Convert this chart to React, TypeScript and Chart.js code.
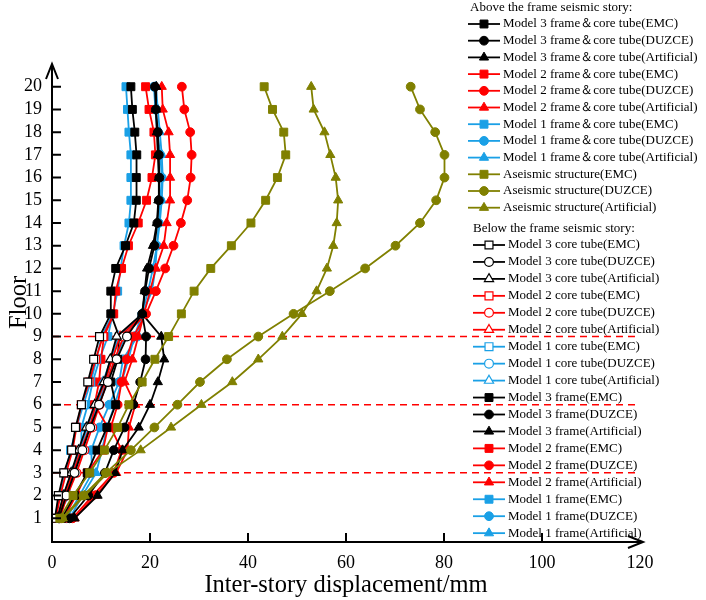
import { useEffect, useRef } from "react";
import { Chart, registerables } from "chart.js";

Chart.register(...registerables);

// floors
const floorsUpper = [10, 11, 12, 13, 14, 15, 16, 17, 18, 19, 20];
const floorsLower = [1, 2, 3, 4, 5, 6, 7, 8, 9];
const floorsAll = [1, 2, 3, 4, 5, 6, 7, 8, 9, 10, 11, 12, 13, 14, 15, 16, 17, 18, 19, 20];
const yTickValues = floorsAll;
const xTickValues = [0, 20, 40, 60, 80, 100, 120];
const storyLines = [9, 6, 3];

// above the frame seismic story (floors 10-20), frame & core tube
const m3EMC = [12.0, 12.0, 13.0, 15.0, 16.7, 17.2, 17.2, 17.3, 16.9, 16.4, 16.1];
const m3DUZCE = [18.4, 19.0, 19.8, 20.9, 21.5, 21.8, 21.9, 21.8, 21.6, 21.2, 21.0];
const m3Art = [18.4, 18.9, 19.4, 20.6, 21.4, 21.7, 21.8, 21.6, 21.4, 21.2, 21.3];
const m2EMC = [12.6, 13.0, 14.2, 15.6, 17.6, 19.3, 20.4, 21.1, 20.8, 19.8, 19.1];
const m2DUZCE = [19.2, 21.2, 23.1, 24.8, 26.3, 27.6, 28.3, 28.5, 28.2, 27.0, 26.5];
const m2Art = [18.8, 20.0, 21.2, 22.8, 23.4, 24.1, 24.1, 24.1, 23.8, 22.6, 22.4];
const m1EMC = [12.4, 13.4, 14.0, 14.7, 15.7, 16.1, 16.1, 16.1, 15.7, 15.4, 15.1];
const m1DUZCE = [18.4, 19.6, 20.6, 21.4, 21.8, 22.1, 22.4, 22.1, 21.5, 21.1, 20.8];
const m1Art = [18.4, 20.4, 21.1, 21.4, 22.0, 22.4, 22.6, 22.4, 22.0, 21.6, 21.2];

// aseismic structure (floors 1-20)
const aEMC = [1.6, 4.3, 7.7, 10.7, 13.4, 15.7, 18.4, 21.0, 23.8, 26.4, 29.0, 32.4, 36.6, 40.6, 43.6, 46.0, 47.7, 47.3, 45.0, 43.3];
const aDUZCE = [2.0, 6.4, 11.0, 16.1, 20.9, 25.6, 30.2, 35.7, 42.1, 49.3, 56.7, 63.9, 70.1, 75.1, 78.4, 80.1, 80.1, 78.2, 75.1, 73.2];
const aArt = [2.2, 6.7, 11.4, 18.1, 24.3, 30.5, 36.8, 42.1, 47.0, 51.0, 54.0, 56.1, 57.4, 58.1, 58.4, 57.9, 56.8, 55.6, 53.4, 52.9];

// below the frame seismic story (floors 1-9), core tube
const c3EMC = [0.6, 1.3, 2.4, 4.0, 4.8, 6.0, 7.3, 8.5, 9.7];
const c3DUZCE = [1.4, 2.9, 4.6, 6.2, 7.8, 9.6, 11.4, 13.2, 15.3];
const c3Art = [1.1, 2.3, 3.9, 5.4, 7.0, 8.7, 10.6, 11.9, 13.2];
const c2EMC = [0.8, 1.7, 2.9, 4.2, 5.0, 6.0, 7.6, 8.9, 10.4];
const c2DUZCE = [1.6, 3.1, 5.0, 6.6, 8.2, 9.7, 11.2, 12.8, 14.6];
const c2Art = [1.3, 2.6, 4.3, 5.9, 7.7, 8.9, 10.8, 12.3, 13.9];
const c1EMC = [0.6, 1.5, 2.7, 3.8, 5.0, 6.4, 7.9, 9.1, 10.1];
const c1DUZCE = [1.5, 2.8, 4.5, 6.1, 7.6, 9.3, 11.0, 12.9, 14.9];
const c1Art = [1.2, 2.4, 4.0, 5.7, 7.2, 8.8, 10.4, 12.0, 13.6];

// below the frame seismic story (floors 1-9), frame
const f3EMC = [2.0, 4.6, 7.2, 9.2, 11.2, 13.0, 12.0, 13.4, 13.7];
const f3DUZCE = [3.6, 7.4, 10.8, 12.6, 14.8, 16.6, 18.0, 19.1, 19.2];
const f3Art = [4.6, 9.3, 12.9, 14.4, 17.7, 20.0, 21.6, 22.9, 22.3];
const f2EMC = [2.4, 4.9, 7.2, 10.4, 11.4, 8.7, 9.6, 10.0, 10.6];
const f2DUZCE = [4.2, 8.3, 12.6, 14.2, 12.0, 13.4, 14.2, 15.2, 16.6];
const f2Art = [4.6, 8.8, 13.1, 15.4, 15.7, 17.0, 14.8, 16.4, 17.6];
const f1EMC = [0.6, 3.6, 3.6, 6.0, 6.0, 7.3, 8.3, 9.7, 11.4];
const f1DUZCE = [3.0, 5.6, 8.2, 8.0, 9.7, 11.7, 13.7, 14.5, 17.4];
const f1Art = [3.6, 6.2, 9.0, 10.2, 11.2, 12.8, 14.2, 15.6, 16.8];

const waves = ["EMC", "DUZCE", "Artificial"];
const headerAbove = "Above the frame seismic story:";
const headerBelow = "Below the frame seismic story:";

const BLACK = "#000000";
const RED = "#ff0000";
const BLUE = "#1aa0e6";
const OLIVE = "#808000";
const FONT = '"Liberation Serif", "Times New Roman", serif';

type Marker = "rect" | "circle" | "triangle";
const markers: Marker[] = ["rect", "circle", "triangle"];
const markerRadius: Record<Marker, number> = { rect: 5.6, circle: 4.4, triangle: 5.3 };

interface Series {
  label: string;
  color: string;
  marker: Marker;
  open: boolean;
  xs: number[];
  ys: number[];
  hideLast?: boolean;
}

const models = [
  { name: "Model 3", color: BLACK, above: [m3EMC, m3DUZCE, m3Art], core: [c3EMC, c3DUZCE, c3Art], frame: [f3EMC, f3DUZCE, f3Art] },
  { name: "Model 2", color: RED, above: [m2EMC, m2DUZCE, m2Art], core: [c2EMC, c2DUZCE, c2Art], frame: [f2EMC, f2DUZCE, f2Art] },
  { name: "Model 1", color: BLUE, above: [m1EMC, m1DUZCE, m1Art], core: [c1EMC, c1DUZCE, c1Art], frame: [f1EMC, f1DUZCE, f1Art] },
];
const aseismic = [aEMC, aDUZCE, aArt];

function buildSeries() {
  const above: Series[] = [];
  const below: Series[] = [];
  models.forEach((m) =>
    waves.forEach((w, i) =>
      above.push({ label: `${m.name} frame\uFF06core tube(${w})`, color: m.color, marker: markers[i], open: false, xs: m.above[i], ys: floorsUpper })
    )
  );
  waves.forEach((w, i) =>
    above.push({ label: `Aseismic structure(${w})`, color: OLIVE, marker: markers[i], open: false, xs: aseismic[i], ys: floorsAll })
  );
  // lower parts join the frame & core tube curve at floor 10
  models.forEach((m) =>
    waves.forEach((w, i) =>
      below.push({ label: `${m.name} core tube(${w})`, color: m.color, marker: markers[i], open: true, xs: [...m.core[i], m.above[i][0]], ys: [...floorsLower, 10], hideLast: true })
    )
  );
  models.forEach((m) =>
    waves.forEach((w, i) =>
      below.push({ label: `${m.name} frame(${w})`, color: m.color, marker: markers[i], open: false, xs: [...m.frame[i], m.above[i][0]], ys: [...floorsLower, 10], hideLast: true })
    )
  );
  return { above, below };
}

function drawMarker(ctx: CanvasRenderingContext2D, marker: Marker, x: number, y: number, color: string, open: boolean) {
  const r = markerRadius[marker];
  ctx.beginPath();
  if (marker === "rect") {
    const s = r * Math.SQRT1_2;
    ctx.rect(x - s, y - s, 2 * s, 2 * s);
  } else if (marker === "circle") {
    ctx.arc(x, y, r, 0, Math.PI * 2);
  } else {
    ctx.moveTo(x, y - r);
    ctx.lineTo(x + r * 0.866, y + r * 0.5);
    ctx.lineTo(x - r * 0.866, y + r * 0.5);
    ctx.closePath();
  }
  ctx.fillStyle = open ? "#ffffff" : color;
  ctx.fill();
  ctx.lineWidth = open ? 1.2 : 1;
  ctx.strokeStyle = color;
  ctx.stroke();
}

export default function App() {
  const canvasRef = useRef<HTMLCanvasElement>(null);
  const chartRef = useRef<Chart | null>(null);

  useEffect(() => {
    if (!canvasRef.current) return;
    if (chartRef.current) chartRef.current.destroy();
    const ctx = canvasRef.current.getContext("2d");
    if (!ctx) return;

    const { above, below } = buildSeries();
    const all = [...above, ...below];

    const datasets: any[] = all.map((s) => ({
      label: s.label,
      data: s.xs.map((x, i) => ({ x, y: s.ys[i] })),
      showLine: true,
      borderColor: s.color,
      backgroundColor: s.open ? "#ffffff" : s.color,
      borderWidth: 1.8,
      pointStyle: s.marker,
      pointRadius: (c: any) => (s.hideLast && c.dataIndex === s.xs.length - 1 ? 0 : markerRadius[s.marker]),
      pointBackgroundColor: s.open ? "#ffffff" : s.color,
      pointBorderColor: s.color,
      pointBorderWidth: s.open ? 1.2 : 1,
      order: 1,
    }));

    storyLines.forEach((f) =>
      datasets.push({
        label: `story ${f}`,
        data: [
          { x: xTickValues[0], y: f },
          { x: xTickValues[xTickValues.length - 1], y: f },
        ],
        showLine: true,
        borderColor: RED,
        borderWidth: 1.5,
        borderDash: [7, 5],
        pointRadius: 0,
        order: 100,
      })
    );

    const axesPlugin = {
      id: "arrowAxes",
      afterDraw(chart: any) {
        const c = chart.ctx as CanvasRenderingContext2D;
        const { left, right, top, bottom } = chart.chartArea;
        const xs = chart.scales.x;
        const ys = chart.scales.y;
        c.save();
        c.strokeStyle = "#000";
        c.lineWidth = 2;
        c.beginPath();
        c.moveTo(left, bottom + 1);
        c.lineTo(left, top);
        c.moveTo(left - 1, bottom + 1);
        c.lineTo(right + 3, bottom + 1);
        // arrow heads
        c.moveTo(left - 6, top + 15);
        c.lineTo(left, top);
        c.lineTo(left + 6, top + 15);
        c.moveTo(right - 12, bottom + 1 - 6);
        c.lineTo(right + 3, bottom + 1);
        c.lineTo(right - 12, bottom + 1 + 6);
        // inward ticks
        yTickValues.forEach((v) => {
          const py = ys.getPixelForValue(v);
          c.moveTo(left, py);
          c.lineTo(left + 9, py);
        });
        xTickValues.slice(1, -1).forEach((v) => {
          const px = xs.getPixelForValue(v);
          c.moveTo(px, bottom + 1);
          c.lineTo(px, bottom - 8);
        });
        c.stroke();

        // legend
        c.font = `13px ${FONT}`;
        c.textBaseline = "middle";
        c.textAlign = "left";
        c.fillStyle = "#000";
        c.fillText(headerAbove, 470, 8);
        above.forEach((s, i) => {
          const y = 24 + i * 16.7;
          c.strokeStyle = s.color;
          c.lineWidth = 1.8;
          c.beginPath();
          c.moveTo(468, y);
          c.lineTo(500, y);
          c.stroke();
          drawMarker(c, s.marker, 484, y, s.color, s.open);
          c.fillStyle = "#000";
          c.fillText(s.label, 503, y);
        });
        c.fillText(headerBelow, 473, 229);
        below.forEach((s, i) => {
          const y = 245 + i * 16.95;
          c.strokeStyle = s.color;
          c.lineWidth = 1.8;
          c.beginPath();
          c.moveTo(473, y);
          c.lineTo(505, y);
          c.stroke();
          drawMarker(c, s.marker, 489, y, s.color, s.open);
          c.fillStyle = "#000";
          c.fillText(s.label, 508, y);
        });
        c.restore();
      },
    };

    chartRef.current = new Chart(ctx, {
      type: "scatter",
      data: { datasets },
      plugins: [axesPlugin],
      options: {
        animation: false,
        responsive: true,
        maintainAspectRatio: false,
        events: [],
        layout: { padding: { top: 64, right: 66, left: 0, bottom: 0 } },
        plugins: { legend: { display: false }, tooltip: { enabled: false } },
        scales: {
          x: {
            type: "linear",
            min: xTickValues[0],
            max: xTickValues[xTickValues.length - 1],
            afterBuildTicks: (scale: any) => {
              scale.ticks = xTickValues.map((v) => ({ value: v }));
            },
            afterFit: (scale: any) => {
              scale.height = 59;
            },
            grid: { display: false, drawTicks: false },
            border: { display: false },
            ticks: { padding: 11, color: "#000", font: { family: FONT, size: 18 }, maxRotation: 0 },
            title: {
              display: true,
              text: "Inter-story displacement/mm",
              color: "#000",
              font: { family: FONT, size: 24.5 },
              padding: { top: 0, bottom: 0 },
            },
          },
          y: {
            type: "linear",
            min: 0,
            max: 21,
            afterBuildTicks: (scale: any) => {
              scale.ticks = yTickValues.map((v) => ({ value: v }));
            },
            afterFit: (scale: any) => {
              scale.width = 52;
            },
            grid: { display: false, drawTicks: false },
            border: { display: false },
            ticks: { padding: 10, autoSkip: false, color: "#000", font: { family: FONT, size: 18 } },
            title: {
              display: true,
              text: "Floor",
              color: "#000",
              font: { family: FONT, size: 24.5 },
              padding: { top: 5, bottom: 0 },
            },
          },
        },
      },
    });

    return () => {
      if (chartRef.current) {
        chartRef.current.destroy();
        chartRef.current = null;
      }
    };
  }, []);

  return (
    <div style={{ position: "absolute", left: 0, top: 0, width: 706, height: 600, background: "#fff" }}>
      <canvas ref={canvasRef}></canvas>
    </div>
  );
}
